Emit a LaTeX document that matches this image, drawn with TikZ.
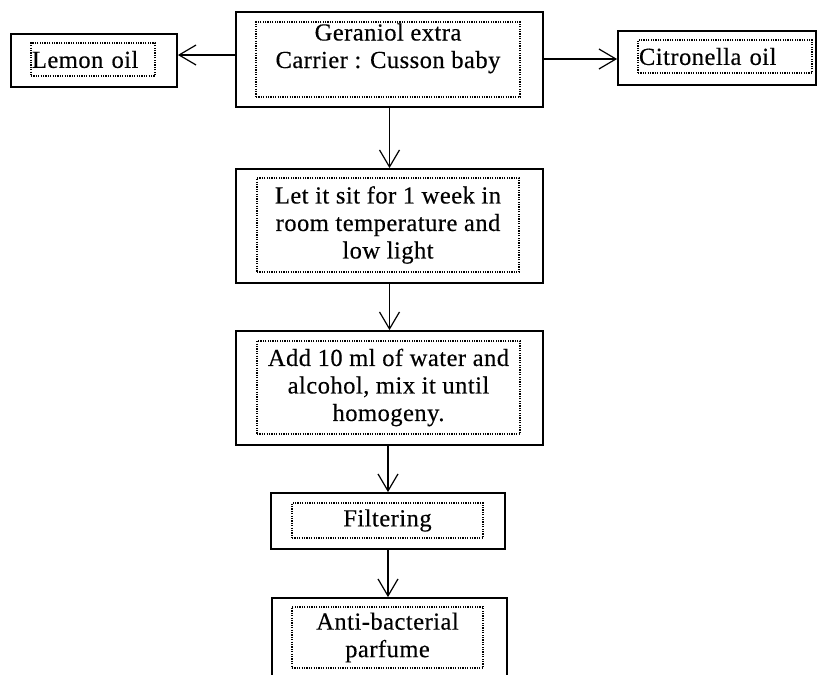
\documentclass[tikz,border=0pt]{standalone}
\usepackage{fontspec}
\setmainfont{Liberation Serif}[LetterSpace=2, FakeBold=0.3]
\usetikzlibrary{arrows.meta}
\begin{document}
\begin{tikzpicture}[x=1pt, y=-1pt,
    outerbox/.style={draw, line width=1.8pt, inner sep=0pt},
    innerbox/.style={draw, dash pattern=on 1.2pt off 1.2pt, line width=1.4pt, inner sep=1pt, align=center,
      font=\fontsize{24.5}{27.5}\selectfont},
    arr/.style={-{Straight Barb[length=17pt, width=20pt, line width=1.2pt]}, line width=1.6pt}]
  \useasboundingbox (0,0) rectangle (825,675);
  \clip (0,0) rectangle (825,675);
  \fill[white] (0,0) rectangle (825,675);
  % top row
  \node[outerbox, minimum width=166pt, minimum height=53pt] (lemon) at (94,60.5) {};
  \node[innerbox, minimum width=124pt, minimum height=33pt, text width=122pt, align=left] (lemontxt) at (93,59.5) {Lemon oil};
  \node[outerbox, minimum width=307pt, minimum height=95pt] (geran) at (389.5,59.5) {};
  \node[innerbox, minimum width=264pt, minimum height=75pt] (gerantxt) at (388,59.5) {Geraniol extra\\Carrier : Cusson baby\\\mbox{}};
  \node[outerbox, minimum width=198pt, minimum height=54pt] (citron) at (717,58) {};
  \node[innerbox, minimum width=174pt, minimum height=33pt, text width=172pt, align=left] (citrontxt) at (725,56.5) {Citronella oil};
  % steps
  \node[outerbox, minimum width=307pt, minimum height=114pt] (sit) at (389.5,226) {};
  \node[innerbox, minimum width=262pt, minimum height=94pt] (sittxt) at (388,225) {Let it sit for 1 week in\\room temperature and\\low light};
  \node[outerbox, minimum width=307pt, minimum height=114pt] (add) at (389.5,388) {};
  \node[innerbox, minimum width=263pt, minimum height=93pt] (addtxt) at (388.5,387.5) {Add 10 ml of water and\\alcohol, mix it until\\homogeny.};
  \node[outerbox, minimum width=234pt, minimum height=56pt] (filt) at (388,521) {};
  \node[innerbox, minimum width=191pt, minimum height=35pt] (filttxt) at (387.5,520.5) {Filtering};
  \node[outerbox, minimum width=235pt, minimum height=84pt] (anti) at (389.5,640) {};
  \node[innerbox, minimum width=191pt, minimum height=61pt] (antitxt) at (387.5,637.5) {Anti-bacterial\\parfume};
  % connectors
  \draw[arr] (geran.west |- 0,55) -- (lemon.east |- 0,55);
  \draw[arr] (geran.east |- 0,59) -- (citron.west |- 0,59);
  \draw[arr] (geran.south) -- (sit.north);
  \draw[arr] (sit.south) -- (add.north);
  \draw[arr] (add.south -| filt.north) -- (filt.north);
  \draw[arr] (filt.south) -- (anti.north -| filt.south);
\end{tikzpicture}
\end{document}
